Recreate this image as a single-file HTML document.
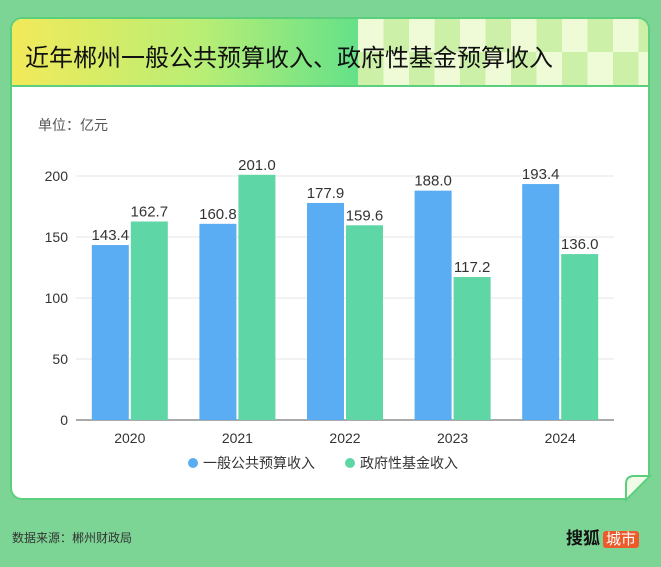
<!DOCTYPE html>
<html><head><meta charset="utf-8"><style>
body{margin:0;width:661px;height:567px;background:#7dd595;font-family:"Liberation Sans","Noto Sans CJK SC",sans-serif;position:relative;overflow:hidden}
.card{position:absolute;left:10px;top:17px;width:640px;height:483px;background:#fff;border:2px solid #5ccf7d;border-radius:12px;box-sizing:border-box;overflow:hidden}
.hdr{position:absolute;left:0;top:0;width:100%;height:66px;background:linear-gradient(90deg,#f2ea5a 0%,#b8ee75 30%,#5fe08a 56%);border-bottom:2px solid #5ccf7d}
.chk{position:absolute;left:346px;top:0;width:294px;height:66px;background:
repeating-conic-gradient(#cdf0a8 0 25%,#eefbd6 0 50%) 0 0/51px 66px}
.title{position:absolute;left:13px;top:19px;font-size:24px;font-weight:normal;color:#111;white-space:nowrap}
.src{position:absolute;left:12px;top:529px;font-size:12px;color:#333}
.logo{position:absolute;left:566px;top:524px;font-size:17px;font-weight:bold;color:#111}
.logo span{background:#ec5b2a;color:#fff;font-weight:normal;font-size:15px;padding:0 3px;border-radius:3px;margin-left:3px}
</style></head><body>
<div class="card">
<div class="hdr"><div class="chk"></div>
<div class="title">近年郴州一般公共预算收入、政府性基金预算收入</div></div>
</div>
<svg width="661" height="567" style="position:absolute;left:0;top:0" id="svg">
<polygon points="626,500 650,476 650,500" fill="#7dd595"/>
<path d="M626,500 L626,484 Q626,476 634,476 L650,476 Z" fill="#f0fbe8" stroke="#5ccf7d" stroke-width="2"/>
<text x="38" y="130" font-size="14" fill="#555">单位：亿元</text>
<g id="g"></g>
</svg>
<div class="src">数据来源：郴州财政局</div>
<div class="logo">搜狐<span>城市</span></div>
<script>
const categories=["2020","2021","2022","2023","2024"];
const general=[143.4,160.8,177.9,188.0,193.4];
const fund=[162.7,201.0,159.6,117.2,136.0];
const ticks=[0,50,100,150,200];
const g=document.getElementById('g');const NS='http://www.w3.org/2000/svg';
const x0=76,cw=107.6,y0=420,k=1.22;
const Y=v=>y0-v*k;const X=i=>x0+cw*i+cw/2;
function el(t,a,txt){const e=document.createElementNS(NS,t);for(const n in a)e.setAttribute(n,a[n]);if(txt!=null)e.textContent=txt;g.appendChild(e);return e;}
ticks.forEach(t=>{
const l=el('line',{x1:x0,x2:614,y1:Y(t),y2:Y(t),stroke:t?'#e4e4e4':'#555','stroke-width':1});


const tx=el('text',{x:68,y:Y(t)+5,'text-anchor':'end','font-size':14,fill:'#333'},t);


});
categories.forEach((c,i)=>{
const cx=X(i);
[[general[i],'#5aadf2',cx-38,'bar-general-'+c],[fund[i],'#5fd6a5',cx+1,'bar-fund-'+c]].forEach(([v,col,bx,nm])=>{
const r=el('rect',{x:bx,y:Y(v),width:37,height:v*k,fill:col});


const t=el('text',{x:bx+18.5,y:Y(v)-5,'text-anchor':'middle','font-size':15,fill:'#333'},v.toFixed(1));


});
const t=el('text',{x:cx,y:443,'text-anchor':'middle','font-size':14,fill:'#333'},c);


});
[[193,'#5aadf2','一般公共预算收入','legend-general'],[350,'#5fd6a5','政府性基金收入','legend-fund']].forEach(([lx,col,txt,nm])=>{
const c=el('circle',{cx:lx,cy:463,r:5,fill:col});


const t=el('text',{x:lx+10,y:468,'font-size':14,fill:'#333'},txt);


});
</script>
</body></html>
